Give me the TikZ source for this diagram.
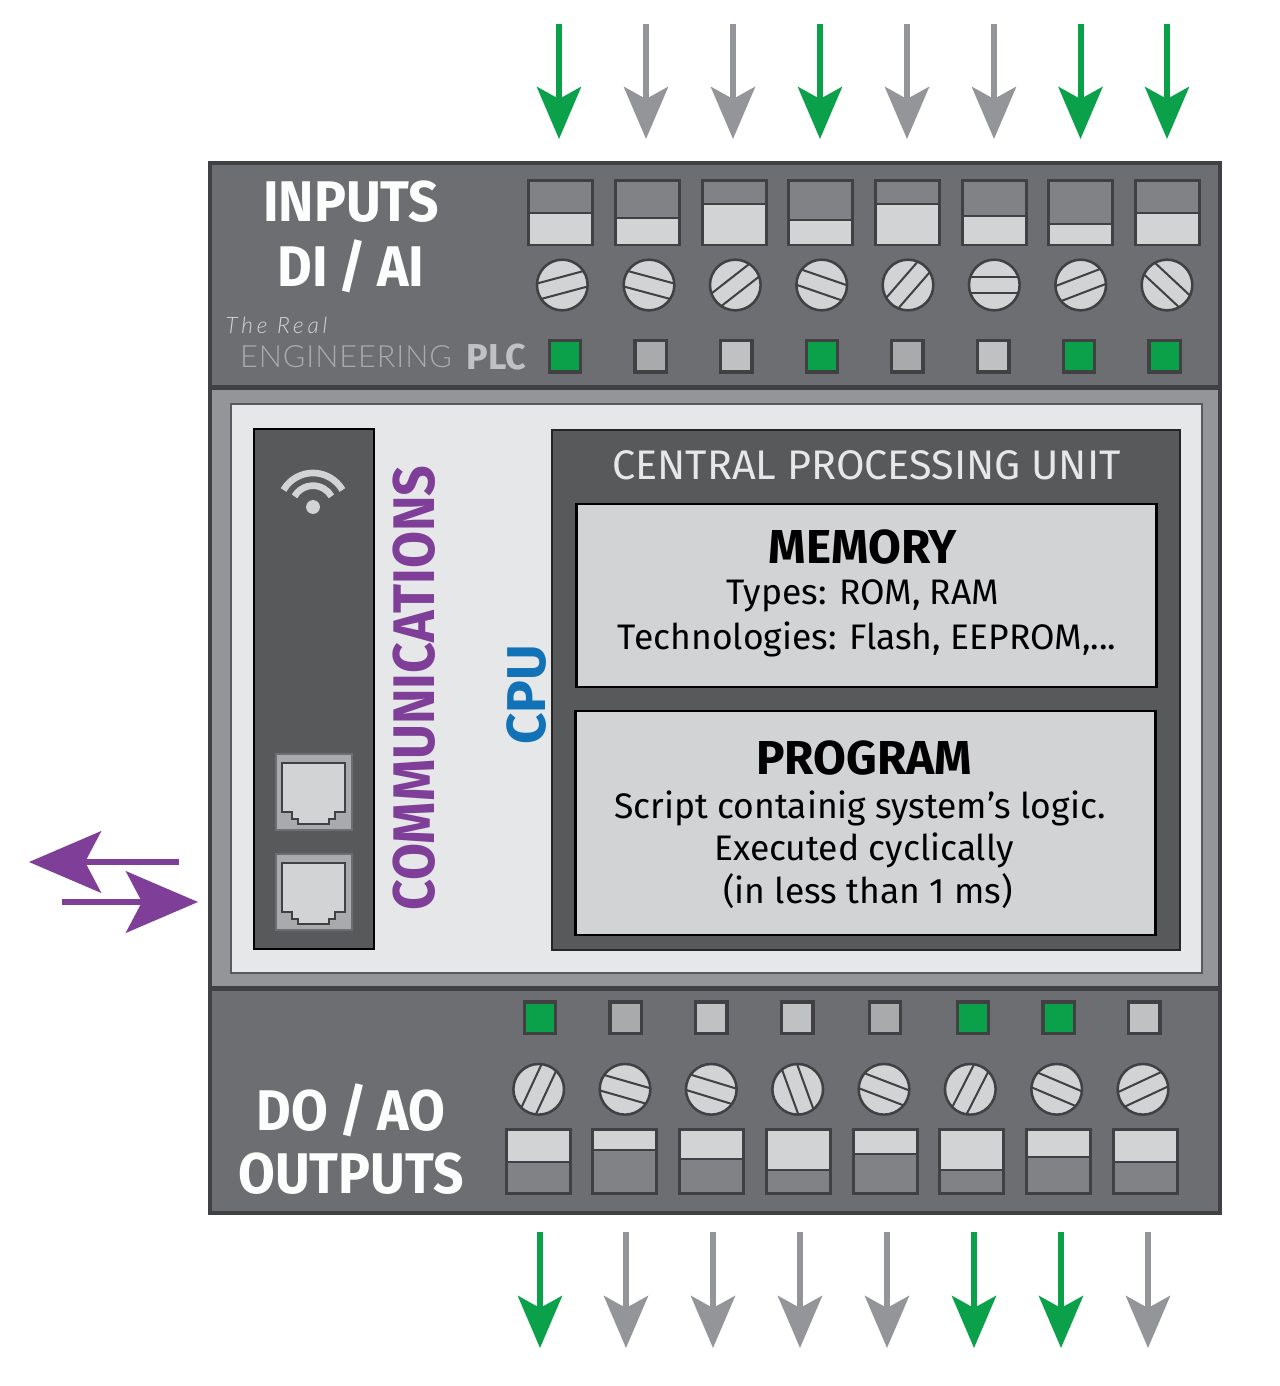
\documentclass[tikz,border=0pt]{standalone}
\usepackage{fontspec}
\setmainfont{Fira Sans}
\newfontfamily\thinfont{Lato}[UprightFont=* Light]
\newfontfamily\titlefont{Fira Sans}[FakeStretch=0.93,WordSpace=0.85]
\newfontfamily\sidefont{Fira Sans}[FakeStretch=0.915]
\usetikzlibrary{arrows.meta}
\definecolor{dark}{HTML}{414042}
\definecolor{body}{HTML}{6D6E71}
\definecolor{band}{HTML}{939598}
\definecolor{paper}{HTML}{E6E7E8}
\definecolor{panelgrey}{HTML}{58595B}
\definecolor{lightgrey}{HTML}{D1D3D4}
\definecolor{midgrey}{HTML}{808285}
\definecolor{ledgreen}{HTML}{0BA14A}
\definecolor{ledgrey}{HTML}{A9AAAC}
\definecolor{ledpale}{HTML}{C0C1C3}
\definecolor{commpurple}{HTML}{7F3F98}
\definecolor{cpublue}{HTML}{1272B8}
\begin{document}
\begin{tikzpicture}[x=0.75pt,y=-0.75pt]
  \tikzset{panel/.style 2 args = {shape=rectangle,draw,minimum width=#1*0.75pt,minimum height=#2*0.75pt,inner sep=0pt}}
  \tikzset{terminal/.style = {shape=rectangle,draw=dark,fill=midgrey,line width=2.25pt,minimum size=48pt,inner sep=0pt}}
  \tikzset{screw/.style = {shape=circle,draw=dark,fill=lightgrey,line width=1.9pt,minimum size=38pt,inner sep=0pt}}
  \tikzset{led/.style = {shape=rectangle,draw=dark,line width=2.5pt,minimum size=23.5pt,inner sep=0pt}}
  \tikzset{slot/.style = {draw=dark,line width=1.5pt}}
  \tikzset{jack/.style = {panel={76}{76},draw=body,fill=ledgrey,line width=1pt}}
  \tikzset{socket/.style = {draw=dark,fill=lightgrey,line width=1.3pt}}
  \tikzset{signal/.style = {line width=4.5pt,-{Stealth[length=39pt,width=33pt,inset=9pt]}}}
  \tikzset{link/.style = {line width=4.5pt,draw=commpurple,-{Stealth[length=54pt,width=46pt,inset=12pt]}}}
  \tikzset{title/.style = {text=white!90!paper,font=\fontsize{43}{50}\titlefont\bfseries,inner sep=0pt}}
  \tikzset{boxtitle/.style = {text=black,font=\fontsize{35.7}{40}\selectfont\bfseries,inner sep=0pt}}
  \tikzset{boxtext/.style = {text=black,font=\fontsize{26.6}{30}\selectfont,inner sep=0pt}}
  \useasboundingbox[fill=white] (0,0) rectangle (1280,1386);

  \node[panel={1010}{600},draw=dark,fill=band,line width=3pt] (middle) at (715,688) {};
  \node[panel={1010}{224},draw=dark,fill=body,line width=3pt] (inputs) at (715,275) {};
  \node[panel={1010}{224},draw=dark,fill=body,line width=3pt] (outputs) at (715,1101) {};
  \node[panel={971}{569},draw=panelgrey,fill=paper,line width=1.1pt] (inner) at (716.5,688.5) {};
  \node[panel={120}{520},draw=black,fill=panelgrey,line width=1.5pt] (comm) at (314.3,689) {};
  \node[panel={628}{520},draw=black!85,fill=panelgrey,line width=2pt] (cpu) at (866,690) {};
  \node[panel={580}{183},draw=black,fill=lightgrey,line width=1.8pt] (memory) at (866.5,595.5) {};
  \node[panel={580}{224},draw=black,fill=lightgrey,line width=1.8pt] (program) at (865.5,823) {};

  \node[title] (t1) at (351,202) {INPUTS};
  \node[title] (t2) at (351,266) {DI / AI};
  \node[title] (t3) at (351,1110) {DO / AO};
  \node[title] (t4) at (351,1174) {OUTPUTS};

  \node[text=lightgrey,font=\fontsize{17}{20}\selectfont\thinfont\itshape\addfontfeatures{LetterSpace=17},inner sep=0pt] (logo1) at (276.5,325) {The Real};
  \node[text=ledgrey,font=\fontsize{23}{28}\selectfont\thinfont\addfontfeatures{LetterSpace=3},inner sep=0pt] (logo2) at (346,357) {ENGINEERING};
  \node[text=ledpale,font=\fontsize{27}{28}\selectfont\bfseries,inner sep=0pt] (logo3) at (496.5,357) {PLC};

  \node[text=paper,font=\fontsize{31}{34}\selectfont,inner sep=0pt] (cpu title) at (866.5,465) {CENTRAL PROCESSING UNIT};
  \node[boxtitle] (m1) at (863,547) {MEMORY};
  \node[boxtext] (m2) at (863,596) {Types: ROM, RAM};
  \node[boxtext] (m3) at (867,639) {Technologies: Flash, EEPROM,...};
  \node[boxtitle] (p1) at (864,758) {PROGRAM};
  \node[boxtext] (p2) at (860,808) {Script containig system's logic.};
  \node[boxtext] (p3) at (864,850) {Executed cyclically};
  \node[boxtext] (p4) at (868,891) {(in less than 1 ms)};

  \node[text=commpurple,rotate=90,font=\fontsize{44}{50}\sidefont\bfseries,inner sep=0pt] (commlabel) at (414,688) {COMMUNICATIONS};
  \node[text=cpublue,rotate=90,font=\fontsize{41}{50}\selectfont\bfseries,inner sep=0pt] (cpulabel) at (527,695) {CPU};

  \foreach \n/\x/\s in {1/560.5/213,2/647/218,3/734/204,4/820.7/220,5/907.3/204,6/994/216,7/1080.7/224,8/1167.3/213}{
    \node[terminal] (ti\n) at (\x,212.5) {};
    \fill[lightgrey] (\x-30.5,\s) rectangle (\x+30.5,244);
    \draw[slot] (\x-30.5,\s) -- (\x+30.5,\s);
  }
  \foreach \n/\x/\a in {1/562.3/15,2/649/-15,3/735.3/38,4/821.7/-19,5/908/49,6/994.3/0,7/1080.7/21,8/1167/-43}{
    \node[screw] (si\n) at (\x,285) {};
    \draw[slot,shift={(si\n.center)},rotate=\a] (-24.5,-8) -- (24.5,-8) (-24.5,8) -- (24.5,8);
  }
  \foreach \n/\x/\c in {1/565/ledgreen,2/650.7/ledgrey,3/736.3/ledpale,4/822/ledgreen,5/907.3/ledgrey,6/993.3/ledpale,7/1079/ledgreen,8/1164.7/ledgreen}
    \node[led,fill=\c] (li\n) at (\x,356.3) {};

  \foreach \n/\x/\s in {1/538/1162,2/624.7/1150,3/711.3/1159,4/798/1170,5/885/1154,6/971.7/1170,7/1058.3/1157,8/1145/1162}{
    \node[terminal] (to\n) at (\x,1161.7) {};
    \fill[lightgrey] (\x-30.5,1131) rectangle (\x+30.5,\s);
    \draw[slot] (\x-30.5,\s) -- (\x+30.5,\s);
  }
  \foreach \n/\x/\a in {1/538.7/65,2/625/-16,3/711.3/-17,4/797.7/-70,5/884/-21,6/970.3/63,7/1056.7/-23,8/1143/25}{
    \node[screw] (so\n) at (\x,1089.3) {};
    \draw[slot,shift={(so\n.center)},rotate=\a] (-24.5,-8) -- (24.5,-8) (-24.5,8) -- (24.5,8);
  }
  \foreach \n/\x/\c in {1/540/ledgreen,2/625.7/ledgrey,3/711.3/ledpale,4/797.3/ledpale,5/885/ledgrey,6/973/ledgreen,7/1058.7/ledgreen,8/1144.3/ledpale}
    \node[led,fill=\c] (lo\n) at (\x,1017.7) {};

  \foreach \n/\x/\c in {1/559/ledgreen,2/646/band,3/733/band,4/820/ledgreen,5/907/band,6/994/band,7/1080.5/ledgreen,8/1167/ledgreen}{
    \coordinate (a\n) at (\x,24);
    \coordinate (b\n) at (\x,139);
    \draw[signal,draw=\c,color=\c] (a\n) -- (b\n);
  }
  \foreach \n/\x/\c in {1/540/ledgreen,2/626/band,3/713/band,4/800/band,5/887/band,6/974/ledgreen,7/1061/ledgreen,8/1148/band}{
    \coordinate (c\n) at (\x,1232);
    \coordinate (d\n) at (\x,1348);
    \draw[signal,draw=\c,color=\c] (c\n) -- (d\n);
  }

  \coordinate (e1) at (179,862);
  \coordinate (e2) at (29,862);
  \coordinate (f1) at (62,902);
  \coordinate (f2) at (198,902);
  \draw[link,color=commpurple] (e1) -- (e2);
  \draw[link,color=commpurple] (f1) -- (f2);

  \coordinate (wifi) at (313,507);
  \fill[lightgrey] (wifi) circle (5.2pt);
  \draw[lightgrey,line width=5pt] ([shift={(150:25.5pt)}]wifi) arc[start angle=150,end angle=30,radius=25.5pt];
  \draw[lightgrey,line width=5pt] ([shift={(150:16pt)}]wifi) arc[start angle=150,end angle=30,radius=16pt];

  \foreach \n/\y in {1/792,2/892}{
    \node[jack] (j\n) at (314,\y) {};
    \draw[socket] (281.7,\y-29.3) -- (345.3,\y-29.3) -- (345.3,\y+19.7) -- (335,\y+19.7) -- (335,\y+26.7) -- (329,\y+26.7) -- (329,\y+32.3) -- (297.7,\y+32.3) -- (297.7,\y+26.7) -- (291.7,\y+26.7) -- (291.7,\y+19.7) -- (281.7,\y+19.7) -- cycle;
  }
\end{tikzpicture}
\end{document}
